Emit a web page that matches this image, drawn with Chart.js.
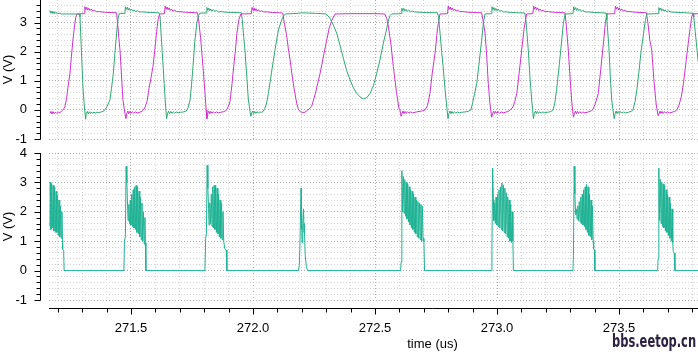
<!DOCTYPE html>
<html>
<head>
<meta charset="utf-8">
<script src="https://cdn.jsdelivr.net/npm/chart.js@4.4.1/dist/chart.umd.min.js"></script>
<style>
  html, body { margin: 0; padding: 0; background: #fff; width: 698px; height: 353px; overflow: hidden; position: relative; }
  canvas { position: absolute; left: 0; }
  #top { top: -8px; }
  #bottom { top: 140px; }
  #mark { position: absolute; left: 612px; top: 331px; font: bold 17px "Liberation Sans Narrow", "DejaVu Sans Condensed", sans-serif; color: #2b2140; white-space: nowrap; transform-origin: 0 0; }
</style>
</head>
<body>
<canvas id="top" width="816" height="155"></canvas>
<canvas id="bottom" width="816" height="213"></canvas>
<div id="mark">bbs.eetop.cn</div>
<script>
// time axis (us) and voltage ranges
const timeRange = [271.164, 274.307];
const topRange = [-1, 3.78];
const bottomRange = [-1, 4];

// [time (us), volts]
const topGreen = [
  [271.168,3.42],[271.172,3.32],[271.176,3.40],[271.180,3.31],[271.184,3.38],[271.188,3.31],[271.193,3.36],[271.198,3.30],[271.205,3.33],[271.215,3.30],[271.250,3.30],[271.289,3.30],
  [271.291,3.2],[271.297,2.0],[271.303,0.8],[271.309,0.1],[271.314,-0.32],
  [271.317,-0.12],[271.321,-0.05],[271.325,-0.14],[271.329,-0.06],[271.334,-0.13],[271.338,-0.07],[271.343,-0.12],[271.348,-0.07],[271.353,-0.11],[271.360,-0.08],[271.368,-0.09],[271.378,-0.07],[271.390,-0.03],
  [271.402,0.12],[271.414,0.35],[271.420,0.75],[271.427,1.2],[271.434,1.95],[271.441,2.64],[271.447,3.15],[271.452,3.32],
  [271.475,3.32],[271.477,3.55],[271.481,3.45],[271.485,3.53],[271.489,3.43],[271.493,3.50],[271.497,3.42],[271.502,3.47],[271.507,3.40],[271.513,3.44],[271.519,3.38],[271.526,3.41],[271.535,3.37],[271.548,3.37],[271.580,3.35],[271.615,3.34],
  [271.619,3.2],[271.628,2.0],[271.636,0.9],[271.642,0.1],[271.646,-0.3],
  [271.650,-0.12],[271.654,-0.04],[271.658,-0.13],[271.663,-0.05],[271.668,-0.12],[271.673,-0.06],[271.679,-0.11],[271.685,-0.07],[271.693,-0.10],[271.703,-0.08],[271.715,-0.07],[271.726,-0.04],
  [271.734,0.08],[271.742,0.34],[271.748,0.85],[271.754,1.49],[271.762,2.4],[271.770,3.0],[271.777,3.25],[271.783,3.33],
  [271.809,3.33],[271.811,3.52],[271.815,3.42],[271.819,3.50],[271.823,3.41],[271.827,3.47],[271.832,3.40],[271.837,3.45],[271.843,3.39],[271.850,3.42],[271.858,3.37],[271.870,3.38],[271.890,3.36],[271.920,3.35],[271.952,3.34],
  [271.956,3.1],[271.962,2.5],[271.967,2.06],[271.974,1.2],[271.981,0.34],[271.987,0.0],[271.991,-0.22],
  [271.995,-0.10],[271.999,-0.04],[272.003,-0.13],[272.007,-0.05],[272.012,-0.12],[272.017,-0.06],[272.022,-0.11],[272.028,-0.07],[272.035,-0.08],[272.041,-0.06],
  [272.048,0.05],[272.055,0.2],[272.063,0.57],[272.076,1.3],[272.090,2.06],[272.104,2.75],[272.118,3.1],[272.126,3.25],[272.133,3.3],
  [272.180,3.32],[272.200,3.34],[272.260,3.32],[272.300,3.30],
  [272.316,3.15],[272.330,2.9],[272.343,2.64],[272.357,2.2],[272.370,1.78],[272.384,1.35],[272.398,1.03],[272.412,0.75],[272.425,0.57],[272.438,0.45],[272.452,0.38],[272.466,0.42],[272.480,0.57],[272.494,0.85],[272.507,1.26],[272.521,1.75],[272.534,2.29],[272.548,2.8],[272.555,3.09],[272.562,3.25],[272.568,3.3],
  [272.607,3.31],[272.610,3.50],[272.614,3.41],[272.618,3.49],[272.622,3.40],[272.627,3.46],[272.632,3.39],[272.638,3.43],[272.645,3.38],[272.653,3.40],[272.662,3.37],[272.680,3.36],[272.711,3.35],[272.756,3.34],
  [272.760,3.2],[272.767,2.6],[272.773,2.0],[272.779,1.49],[272.787,0.7],[272.794,0.1],[272.799,-0.3],
  [272.803,-0.12],[272.807,-0.04],[272.811,-0.13],[272.815,-0.05],[272.820,-0.12],[272.825,-0.06],[272.831,-0.11],[272.837,-0.07],[272.845,-0.10],[272.855,-0.08],[272.868,-0.07],[272.882,-0.05],[272.893,0.0],
  [272.900,0.25],[272.908,0.55],[272.917,0.92],[272.927,1.65],[272.937,2.4],[272.944,3.0],[272.951,3.3],
  [272.977,3.31],[272.979,3.55],[272.983,3.44],[272.987,3.52],[272.991,3.42],[272.995,3.49],[273.000,3.41],[273.005,3.46],[273.011,3.39],[273.018,3.42],[273.026,3.37],[273.040,3.37],[273.060,3.35],[273.090,3.34],[273.114,3.33],
  [273.118,3.1],[273.123,2.6],[273.128,2.06],[273.135,1.1],[273.142,0.34],[273.146,0.0],[273.149,-0.3],
  [273.153,-0.12],[273.157,-0.04],[273.161,-0.13],[273.165,-0.05],[273.170,-0.12],[273.175,-0.06],[273.181,-0.11],[273.188,-0.07],[273.196,-0.10],[273.207,-0.08],[273.219,-0.06],[273.228,-0.02],
  [273.236,0.2],[273.244,0.69],[273.255,1.55],[273.265,2.4],[273.272,3.0],[273.279,3.3],
  [273.311,3.31],[273.314,3.55],[273.318,3.44],[273.322,3.52],[273.326,3.42],[273.330,3.49],[273.335,3.41],[273.340,3.46],[273.346,3.39],[273.353,3.42],[273.361,3.37],[273.375,3.37],[273.400,3.35],[273.430,3.34],[273.447,3.33],
  [273.450,3.1],[273.458,2.2],[273.465,1.0],[273.470,0.34],[273.475,0.0],[273.480,-0.3],
  [273.484,-0.12],[273.488,-0.04],[273.492,-0.13],[273.496,-0.05],[273.501,-0.12],[273.506,-0.06],[273.512,-0.11],[273.519,-0.07],[273.527,-0.10],[273.538,-0.08],[273.550,-0.05],[273.557,0.0],
  [273.566,0.3],[273.573,0.7],[273.580,1.2],[273.590,2.0],[273.600,2.6],[273.608,3.1],[273.614,3.3],
  [273.660,3.31],[273.663,3.52],[273.667,3.43],[273.671,3.50],[273.675,3.41],[273.679,3.47],[273.684,3.40],[273.689,3.44],[273.695,3.38],[273.702,3.41],[273.710,3.37],[273.725,3.36],[273.750,3.35],[273.775,3.34],[273.789,3.33],[273.803,3.32],
  [273.806,3.2],[273.812,2.7],[273.818,2.2],[273.824,1.66]
];

const topMagenta = [
  [271.168,-0.12],[271.172,-0.05],[271.176,-0.14],[271.180,-0.06],[271.185,-0.13],[271.190,-0.07],[271.196,-0.12],[271.202,-0.08],[271.208,-0.09],[271.214,-0.06],[271.219,-0.02],
  [271.225,0.05],[271.229,0.1],[271.236,0.4],[271.243,0.85],[271.250,1.26],[271.256,1.85],[271.262,2.4],[271.268,2.85],[271.274,3.2],[271.279,3.3],
  [271.309,3.31],[271.311,3.55],[271.315,3.45],[271.319,3.53],[271.323,3.43],[271.327,3.50],[271.332,3.42],[271.337,3.47],[271.343,3.40],[271.350,3.43],[271.358,3.38],[271.370,3.38],[271.390,3.36],[271.414,3.35],[271.441,3.34],
  [271.445,3.0],[271.450,2.5],[271.455,2.06],[271.461,1.2],[271.467,0.34],[271.473,0.0],[271.479,-0.3],
  [271.483,-0.12],[271.487,-0.04],[271.491,-0.13],[271.495,-0.05],[271.500,-0.12],[271.505,-0.06],[271.511,-0.11],[271.518,-0.07],[271.526,-0.10],[271.536,-0.08],[271.545,-0.05],[271.551,0.0],
  [271.558,0.1],[271.566,0.3],[271.574,0.75],[271.582,1.1],[271.590,1.49],[271.598,2.1],[271.605,2.7],[271.611,3.1],[271.617,3.3],
  [271.637,3.31],[271.640,3.57],[271.644,3.46],[271.648,3.54],[271.652,3.44],[271.656,3.51],[271.661,3.42],[271.666,3.47],[271.672,3.40],[271.679,3.43],[271.687,3.38],[271.700,3.38],[271.720,3.36],[271.750,3.35],[271.773,3.34],
  [271.777,3.1],[271.785,2.5],[271.795,1.49],[271.803,0.6],[271.808,0.0],[271.811,-0.3],
  [271.815,-0.12],[271.819,-0.04],[271.823,-0.13],[271.827,-0.05],[271.832,-0.12],[271.837,-0.06],[271.843,-0.11],[271.850,-0.07],[271.858,-0.10],[271.868,-0.08],[271.880,-0.06],[271.890,-0.02],
  [271.898,0.1],[271.906,0.3],[271.914,0.9],[271.921,1.5],[271.928,2.06],[271.934,2.64],[271.942,3.1],[271.950,3.3],
  [271.993,3.31],[271.996,3.53],[272.000,3.43],[272.004,3.51],[272.008,3.41],[272.012,3.48],[272.017,3.40],[272.022,3.45],[272.028,3.38],[272.035,3.41],[272.043,3.37],[272.058,3.37],[272.080,3.35],[272.110,3.34],[272.122,3.33],
  [272.128,3.0],[272.137,2.6],[272.145,2.1],[272.152,1.72],[272.160,1.2],[272.168,0.75],[272.179,0.23],[272.186,0.02],[272.193,-0.06],
  [272.203,-0.09],[272.213,-0.08],[272.225,0.0],[272.240,0.11],
  [272.255,0.55],[272.275,1.26],[272.290,1.9],[272.302,2.4],[272.312,2.8],[272.323,3.09],[272.336,3.3],
  [272.400,3.31],[272.500,3.31],[272.540,3.30],
  [272.548,3.15],[272.555,2.86],[272.566,2.2],[272.575,1.49],[272.588,0.6],[272.598,0.05],[272.602,0.0],[272.607,-0.22],
  [272.611,-0.12],[272.615,-0.04],[272.619,-0.13],[272.623,-0.05],[272.628,-0.12],[272.633,-0.06],[272.639,-0.11],[272.646,-0.07],[272.654,-0.10],[272.664,-0.08],[272.676,-0.06],[272.690,-0.04],[272.705,0.0],
  [272.715,0.15],[272.725,0.57],[272.735,1.3],[272.746,1.95],[272.756,2.8],[272.766,3.3],
  [272.797,3.31],[272.800,3.57],[272.804,3.46],[272.808,3.54],[272.812,3.44],[272.816,3.51],[272.821,3.42],[272.826,3.47],[272.832,3.40],[272.839,3.43],[272.847,3.38],[272.860,3.38],[272.880,3.36],[272.910,3.35],[272.937,3.34],
  [272.942,3.1],[272.951,2.64],[272.958,1.8],[272.964,0.92],[272.971,0.2],[272.978,-0.25],
  [272.982,-0.12],[272.986,-0.04],[272.990,-0.13],[272.994,-0.05],[272.999,-0.12],[273.004,-0.06],[273.010,-0.11],[273.017,-0.07],[273.025,-0.10],[273.035,-0.08],[273.046,-0.05],[273.055,0.0],
  [273.065,0.1],[273.073,0.3],[273.081,0.57],[273.091,1.3],[273.101,2.06],[273.111,2.8],[273.121,3.3],
  [273.147,3.31],[273.150,3.57],[273.154,3.46],[273.158,3.54],[273.162,3.44],[273.166,3.51],[273.171,3.42],[273.176,3.47],[273.182,3.40],[273.189,3.43],[273.197,3.38],[273.210,3.38],[273.230,3.36],[273.255,3.35],[273.278,3.34],
  [273.283,3.0],[273.292,2.06],[273.300,1.0],[273.307,0.2],[273.313,-0.25],
  [273.317,-0.12],[273.321,-0.04],[273.325,-0.13],[273.329,-0.05],[273.334,-0.12],[273.339,-0.06],[273.345,-0.11],[273.352,-0.07],[273.360,-0.10],[273.370,-0.08],[273.382,-0.05],[273.392,0.0],
  [273.402,0.2],[273.415,0.57],[273.425,1.4],[273.436,2.3],[273.444,3.0],[273.450,3.3],
  [273.482,3.31],[273.485,3.57],[273.489,3.46],[273.493,3.54],[273.497,3.44],[273.501,3.51],[273.506,3.42],[273.511,3.47],[273.517,3.40],[273.524,3.43],[273.532,3.38],[273.545,3.38],[273.565,3.36],[273.590,3.35],[273.612,3.34],
  [273.618,3.0],[273.626,2.4],[273.634,2.06],[273.643,1.0],[273.652,0.2],[273.660,-0.2],
  [273.664,-0.12],[273.668,-0.04],[273.672,-0.13],[273.676,-0.05],[273.681,-0.12],[273.686,-0.06],[273.692,-0.11],[273.699,-0.07],[273.707,-0.10],[273.717,-0.08],[273.728,-0.05],[273.737,0.0],
  [273.745,0.15],[273.755,0.45],[273.764,0.92],[273.775,1.7],[273.785,2.4],[273.791,2.8],[273.797,3.15],[273.801,3.3],
  [273.824,3.31]
];

const bottomTeal = [
  [271.168,1.5],[271.169,3.0],[271.172,1.4],[271.175,2.95],[271.178,1.45],[271.181,2.9],[271.184,1.35],[271.187,2.85],[271.190,1.3],[271.193,2.7],[271.196,1.3],[271.199,2.55],[271.202,1.2],[271.205,2.4],[271.208,1.15],[271.211,2.2],[271.214,1.1],[271.217,2.0],[271.219,1.0],[271.220,0.72],[271.224,0.68],[271.226,0.0],
  [271.471,0.0],[271.473,1.0],[271.477,1.15],[271.480,3.55],[271.483,3.0],[271.486,2.2],[271.488,1.7],[271.491,2.25],[271.494,1.6],[271.497,2.4],[271.500,1.55],[271.503,2.6],[271.506,1.5],[271.509,2.75],[271.512,1.45],[271.515,2.85],[271.518,1.4],[271.521,2.9],[271.524,1.3],[271.527,2.85],[271.530,1.25],[271.533,2.7],[271.536,1.15],[271.539,2.5],[271.542,1.05],[271.545,2.3],[271.548,1.0],[271.551,2.0],[271.554,0.9],[271.557,1.8],[271.559,0.95],[271.561,0.0],
  [271.803,0.0],[271.806,1.1],[271.809,1.25],[271.812,3.58],[271.815,2.8],[271.818,2.1],[271.820,1.55],[271.823,2.3],[271.826,1.6],[271.829,2.6],[271.832,1.5],[271.835,2.85],[271.838,1.45],[271.841,2.9],[271.844,1.4],[271.847,2.9],[271.850,1.3],[271.853,2.8],[271.856,1.25],[271.859,2.6],[271.862,1.15],[271.865,2.4],[271.868,1.1],[271.871,2.3],[271.874,1.05],[271.877,2.0],[271.880,1.0],[271.884,0.75],[271.890,0.7],[271.893,0.0],
  [272.186,0.0],[272.190,0.2],[272.193,1.2],[272.197,2.81],[272.198,1.4],[272.199,2.4],[272.201,0.95],[272.204,1.6],[272.207,2.1],[272.209,1.3],[272.210,1.6],[272.214,0.5],[272.219,0.1],[272.225,0.0],
  [272.605,0.0],[272.607,0.3],[272.610,3.4],[272.613,2.0],[272.616,3.2],[272.619,1.95],[272.622,3.1],[272.625,1.85],[272.628,3.0],[272.631,1.75],[272.634,2.95],[272.637,1.65],[272.640,2.85],[272.643,1.55],[272.646,2.75],[272.649,1.45],[272.652,2.7],[272.655,1.4],[272.658,2.6],[272.661,1.3],[272.664,2.5],[272.667,1.25],[272.670,2.4],[272.673,1.15],[272.676,2.35],[272.679,1.1],[272.682,2.3],[272.685,1.05],[272.688,2.25],[272.691,1.0],[272.694,2.2],[272.697,1.0],[272.700,1.1],[272.703,0.0],
  [272.977,0.0],[272.979,0.8],[272.982,3.49],[272.985,2.4],[272.987,1.7],[272.990,2.3],[272.993,1.6],[272.996,2.5],[272.999,1.55],[273.002,2.6],[273.005,1.5],[273.008,2.75],[273.011,1.45],[273.014,2.85],[273.017,1.4],[273.020,2.98],[273.023,1.35],[273.026,2.9],[273.029,1.3],[273.032,2.8],[273.035,1.25],[273.038,2.65],[273.041,1.15],[273.044,2.5],[273.047,1.1],[273.050,2.4],[273.053,1.0],[273.056,2.25],[273.059,0.95],[273.062,2.0],[273.065,1.0],[273.067,0.0],
  [273.311,0.0],[273.313,0.5],[273.316,3.55],[273.319,2.6],[273.322,1.9],[273.325,2.1],[273.328,1.75],[273.331,2.2],[273.334,1.7],[273.337,2.35],[273.340,1.65],[273.343,2.5],[273.346,1.6],[273.349,2.6],[273.352,1.55],[273.355,2.75],[273.358,1.5],[273.361,2.85],[273.364,1.4],[273.367,2.93],[273.370,1.3],[273.373,2.85],[273.376,1.2],[273.379,2.6],[273.382,1.15],[273.385,2.4],[273.388,1.05],[273.391,2.2],[273.394,1.0],[273.396,0.75],[273.399,0.7],[273.401,0.0],
  [273.658,0.0],[273.660,0.4],[273.663,3.49],[273.666,1.7],[273.669,3.1],[273.672,1.6],[273.675,3.0],[273.678,1.5],[273.681,2.95],[273.684,1.45],[273.687,2.9],[273.690,1.35],[273.693,2.75],[273.696,1.3],[273.699,2.6],[273.702,1.2],[273.705,2.5],[273.708,1.1],[273.711,2.3],[273.714,1.0],[273.717,2.1],[273.720,0.95],[273.722,0.65],[273.726,0.6],[273.729,0.0],
  [273.824,0.0]
];

Chart.defaults.font.family = '"Liberation Sans", Arial, sans-serif';
Chart.defaults.font.size = 13;
Chart.defaults.color = '#000';

const isWhole = v => Math.abs(v - Math.round(v)) < 1e-6;
const isHalf = v => Math.abs(v * 2 - Math.round(v * 2)) < 1e-6;
const toPts = arr => arr.map(p => ({ x: p[0], y: p[1] }));

// axis lines sit a few pixels off the plot, like the simulator's viewer
const axisLines = {
  id: 'axisLines',
  afterDraw(chart, args, opts) {
    const { ctx, chartArea: a, scales } = chart;
    const x = scales.x, y = scales.y;
    const ax = a.left - 8.5;
    ctx.save();
    ctx.strokeStyle = '#000';
    ctx.lineWidth = 1;
    ctx.beginPath();
    ctx.moveTo(ax, y.getPixelForValue(y.max));
    ctx.lineTo(ax, Math.round(y.getPixelForValue(y.min)) + 0.5);
    y.ticks.forEach(t => {
      const py = Math.round(y.getPixelForValue(t.value)) + 0.5;
      const len = isWhole(t.value) ? 6 : 4;
      ctx.moveTo(ax - len, py);
      ctx.lineTo(ax, py);
    });
    if (opts.xAxis) {
      const ay = a.bottom + 8.5;
      ctx.moveTo(a.left, ay);
      ctx.lineTo(a.right, ay);
      x.ticks.forEach(t => {
        const px = Math.round(x.getPixelForValue(t.value)) + 0.5;
        const len = isHalf(t.value) ? 6 : 4;
        ctx.moveTo(px, ay);
        ctx.lineTo(px, ay + len);
      });
    }
    ctx.stroke();
    ctx.restore();
  }
};

const gridColor = major => ctx => (ctx.tick && major(ctx.tick.value)) ? '#a9a9a9' : '#d4d4d4';
const clear = 'rgba(0,0,0,0)';

function makeChart(id, datasets, yRange, withXLabels, xHeight, padTop) {
  return new Chart(document.getElementById(id), {
    type: 'line',
    data: { datasets },
    plugins: [axisLines],
    options: {
      responsive: false,
      animation: false,
      events: [],
      layout: { padding: { top: padTop, left: 0, right: 0, bottom: 0 } },
      elements: { point: { radius: 0 }, line: { borderWidth: 1, tension: 0 } },
      plugins: { legend: { display: false }, tooltip: { enabled: false }, axisLines: { xAxis: withXLabels } },
      scales: {
        x: {
          type: 'linear',
          min: timeRange[0], max: timeRange[1],
          ticks: {
            display: withXLabels, stepSize: 0.1, autoSkip: false, includeBounds: false,
            maxRotation: 0, padding: 0,
            callback: v => isHalf(v) ? v.toFixed(1) : ''
          },
          grid: { color: gridColor(isHalf), drawTicks: withXLabels, tickLength: 21, tickColor: clear, lineWidth: 1 },
          border: { display: false, dash: [1, 2] },
          title: { display: withXLabels, text: 'time (us)', padding: { top: 0, bottom: 1 } },
          afterFit: s => { s.height = xHeight; }
        },
        y: {
          type: 'linear',
          min: yRange[0], max: yRange[1],
          ticks: {
            stepSize: 0.2, autoSkip: false, includeBounds: false, padding: 0,
            callback: v => isWhole(v) ? String(Math.round(v)) : ''
          },
          grid: { color: gridColor(isWhole), drawTicks: true, tickLength: 22, tickColor: clear, lineWidth: 1 },
          border: { display: false, dash: [1, 2] },
          title: { display: true, text: 'V (V)', padding: { top: 1, bottom: 0 } },
          afterFit: s => { s.width = 49; }
        }
      }
    }
  });
}

makeChart('top', [
  { data: toPts(topGreen), borderColor: '#2fa874' },
  { data: toPts(topMagenta), borderColor: '#cc33cc' }
], topRange, false, 8, 8);

makeChart('bottom', [
  { data: toPts(bottomTeal), borderColor: '#1fb294' }
], bottomRange, true, 53, 13);

// squeeze the watermark into the space it takes in the picture
const mark = document.getElementById('mark');
mark.style.transform = 'scaleX(' + (84 / mark.offsetWidth) + ')';
</script>
</body>
</html>
